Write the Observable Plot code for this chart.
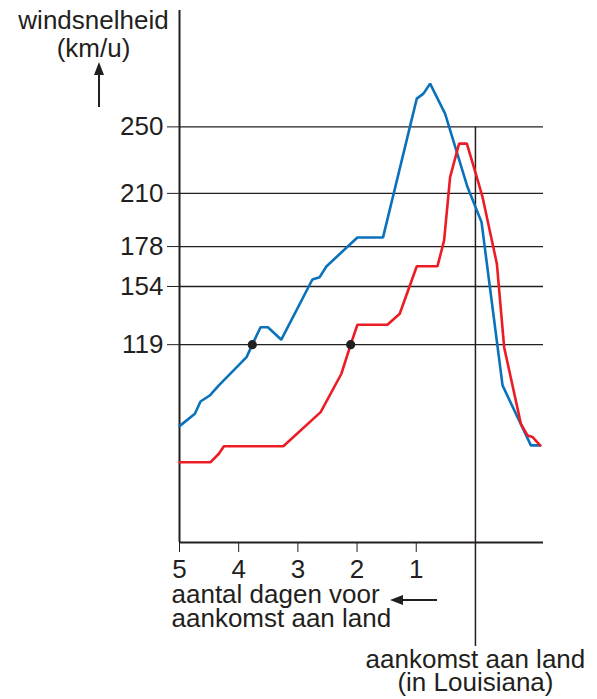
<!DOCTYPE html>
<html>
<head>
<meta charset="utf-8">
<script src="https://cdn.jsdelivr.net/npm/d3@7"></script>
<script src="https://cdn.jsdelivr.net/npm/@observablehq/plot@0.6"></script>
<style>
  html, body { margin: 0; padding: 0; background: #fff; }
  #chart svg { display: block; }
</style>
</head>
<body>
<div id="chart"></div>
<script>
// ---- data ----
const dayTicks = [5, 4, 3, 2, 1];
const speedTicks = [119, 154, 178, 210, 250];

// blue storm (days before landfall, wind speed km/u)
const blueDays  = [5.0, 4.74, 4.645, 4.49, 4.335, 3.867, 3.77, 3.63, 3.506, 3.28, 2.755, 2.632, 2.519, 2.108, 1.994, 1.561, 0.991, 0.878, 0.766, 0.513, 0.134, -0.103, -0.458, -0.937, -1.094];
const blueSpeed = [70, 77.4, 84.8, 88.4, 94.5, 111.5, 119, 129.5, 129.5, 122, 158.2, 159.6, 166, 179.7, 183.5, 183.5, 267, 270, 276, 258, 213.8, 192.7, 94.5, 58.4, 58.4];

// red storm
const redDays  = [5.0, 4.475, 4.335, 4.25, 3.246, 2.615, 2.265, 2.108, 1.994, 1.487, 1.279, 0.991, 0.641, 0.529, 0.428, 0.276, 0.145, -0.007, -0.12, -0.362, -0.485, -0.768, -0.88, -0.966, -1.094];
const redSpeed = [48.3, 48.3, 53.4, 57.9, 57.9, 78.4, 101.5, 119, 131, 131, 137.6, 166.2, 166.2, 181.7, 219.8, 239.9, 239.9, 221.8, 207.8, 167.7, 117.5, 71.4, 64.4, 63.4, 58.4];

// marked crossings of 119 km/u
const dotDays  = [3.77, 2.108];
const dotSpeed = [119, 119];

const landfallDay = 0;
const yLabel = "windsnelheid\n(km/u)";
const xLabel = "aantal dagen voor\naankomst aan land";
const landfallLabel = "aankomst aan land\n(in Louisiana)";

// ---- build tables ----
const blue = blueDays.map((d, i) => ({day: d, speed: blueSpeed[i]}));
const red = redDays.map((d, i) => ({day: d, speed: redSpeed[i]}));
const dots = dotDays.map((d, i) => ({day: d, speed: dotSpeed[i]}));

const ink = "#231f20";
const blueColor = "#0a72ba";
const redColor = "#ec1c24";

function arrows(index, scales, values, dims) {
  const {marginLeft, height, marginBottom} = dims;
  const g = d3.create("svg:g");
  // upward arrow under the y label
  const ax = marginLeft - 80, tipY = 62, tailY = 107;
  g.append("line").attr("x1", ax).attr("x2", ax).attr("y1", tipY + 10).attr("y2", tailY)
    .attr("stroke", ink).attr("stroke-width", 2);
  g.append("path").attr("d", `M${ax},${tipY}L${ax - 5},${tipY + 13}L${ax + 5},${tipY + 13}Z`).attr("fill", ink);
  // leftward arrow after "voor"
  const by = height - marginBottom + 58;
  const tipX = marginLeft + 211, tailX = marginLeft + 258;
  g.append("line").attr("x1", tipX + 10).attr("x2", tailX).attr("y1", by).attr("y2", by)
    .attr("stroke", ink).attr("stroke-width", 2);
  g.append("path").attr("d", `M${tipX},${by}L${tipX + 13},${by - 5}L${tipX + 13},${by + 5}Z`).attr("fill", ink);
  return g.node();
}

const chart = Plot.plot({
  width: 597,
  height: 699,
  marginLeft: 179,
  marginRight: 54,
  marginTop: 10,
  marginBottom: 157,
  style: "font-family: 'Liberation Sans', Arial, sans-serif; font-size: 26px; color: #231f20; background: #fff; overflow: visible;",
  x: {domain: [5, -1.15], ticks: dayTicks, tickSize: 10, tickPadding: 7, tickFormat: d => String(d), label: null},
  y: {domain: [0, 320], ticks: speedTicks, tickSize: 12, tickPadding: 4, label: null},
  marks: [
    Plot.ruleY(speedTicks, {stroke: ink, strokeWidth: 1.3}),
    Plot.ruleX([landfallDay], {x: d => d, y1: 250, y2: 0, insetBottom: -104, stroke: ink, strokeWidth: 1.5}),
    Plot.ruleX([5], {stroke: ink, strokeWidth: 2}),
    Plot.ruleY([0], {stroke: ink, strokeWidth: 2}),
    Plot.line(blue, {x: "day", y: "speed", stroke: blueColor, strokeWidth: 2.6, strokeLinejoin: "miter"}),
    Plot.line(red, {x: "day", y: "speed", stroke: redColor, strokeWidth: 2.6, strokeLinejoin: "miter"}),
    Plot.dot(dots, {x: "day", y: "speed", r: 4.6, fill: ink, stroke: "none"}),
    Plot.text([yLabel], {text: d => d, frameAnchor: "top-left", dx: -86, dy: -1, textAnchor: "middle", lineAnchor: "top", lineHeight: 1.07, fill: ink}),
    Plot.text([xLabel], {text: d => d, frameAnchor: "bottom-left", dx: -8, dy: 44, textAnchor: "start", lineAnchor: "top", lineHeight: 0.9, fill: ink}),
    Plot.text([landfallDay], {x: d => d, text: () => landfallLabel, frameAnchor: "bottom", dy: 109, textAnchor: "middle", lineAnchor: "top", lineHeight: 0.88, fill: ink}),
    arrows
  ]
});

document.getElementById("chart").append(chart);
</script>
</body>
</html>
